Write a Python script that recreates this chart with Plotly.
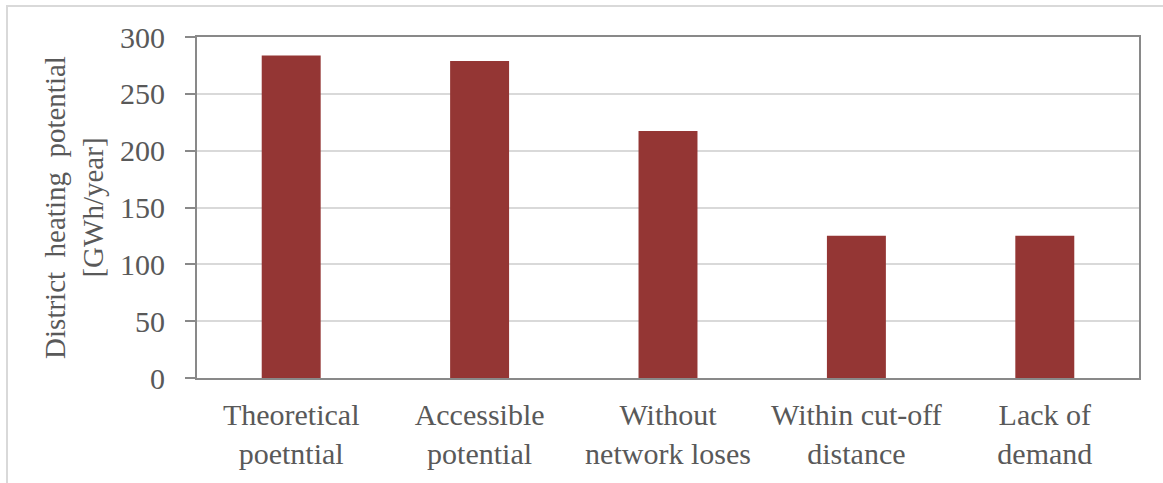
import plotly.graph_objects as go

categories = ["Theoretical<br>poetntial", "Accessible<br>potential", "Without<br>network loses",
              "Within cut-off<br>distance", "Lack of<br>demand"]
values = [283.8, 278.9, 217.3, 125.2, 125.2]
y_ticks = [0, 50, 100, 150, 200, 250, 300]
y_title = "District  heating  potential<br>[GWh/year]"

W, H = 1163, 483
ml, mr, mt, mb = 197, 24, 37, 105
pw = W - ml - mr
ph = H - mt - mb

font_fam = "Liberation Serif"
txt_col = "#595959"
axis_col = "#898989"

fig = go.Figure(go.Bar(
    x=categories, y=values,
    marker=dict(color="#943634", line=dict(width=0)),
))

fig.update_layout(
    width=W, height=H,
    margin=dict(l=ml, r=mr, t=mt, b=mb, pad=0),
    paper_bgcolor="white", plot_bgcolor="white",
    bargap=0.687,
    showlegend=False,
    font=dict(family=font_fam, color=txt_col, size=30),
)

fig.update_xaxes(
    showline=True, linecolor=axis_col, linewidth=2, mirror=True,
    ticks="", showgrid=False,
    tickfont=dict(size=30, color=txt_col, family=font_fam),
    ticklabelstandoff=9,
)
fig.update_yaxes(
    range=[0, 300], tickvals=y_ticks,
    showline=True, linecolor=axis_col, linewidth=2, mirror=True,
    ticks="outside", ticklen=10, tickcolor=axis_col, tickwidth=2,
    showgrid=True, gridcolor="#d9d9d9", gridwidth=1.5,
    zeroline=False,
    tickfont=dict(size=30, color=txt_col, family=font_fam),
    ticklabelstandoff=14,
    title=dict(text=y_title, font=dict(size=29, color=txt_col, family=font_fam), standoff=8),
)

# outer chart border (light gray frame, cropped at right/bottom)
fig.add_shape(
    type="rect", xref="paper", yref="paper",
    x0=(7 - ml) / pw, x1=(W + 5 - ml) / pw,
    y0=(H - mb - (H + 5)) / ph, y1=(H - mb - 6) / ph,
    line=dict(color="#d9d9d9", width=2), fillcolor="rgba(0,0,0,0)", layer="below",
)

fig.write_html("out.html")
